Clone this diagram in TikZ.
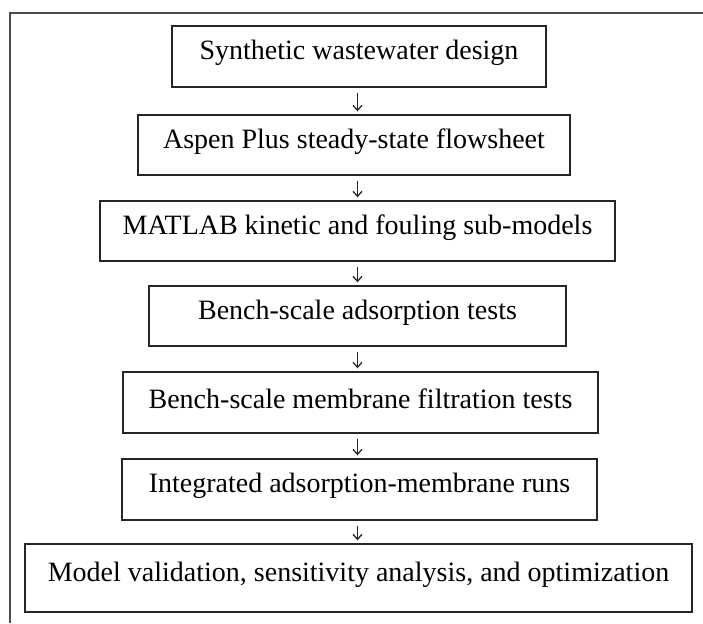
\documentclass[tikz,border=0pt]{standalone}
\usepackage{fontspec}
\setmainfont{Liberation Serif}
\usetikzlibrary{arrows.meta}
\newcommand{\uptext}[1]{\raisebox{3.5pt}[\height][\depth]{#1}}
\begin{document}
\begin{tikzpicture}[x=1pt,y=-1pt,
  stepbox/.style={draw=black!85, line width=1.4pt, inner sep=0pt, fill=white,
    font=\fontsize{28}{33}\selectfont},
  flow/.style={draw=black!85, line width=1.4pt, -{Straight Barb[length=5pt,width=9pt,line width=1.3pt]},
    shorten <=5pt, shorten >=3pt},
  frame/.style={draw=black!70, line width=1.2pt}]
\fill[white] (0,0) rectangle (703,623);
\useasboundingbox (0,0) rectangle (703,623);
\draw[frame] (10,623) -- (10,13) -- (703,13);
\node[stepbox, minimum width=374pt, minimum height=61pt] (b1) at (359,56.5) {\uptext{Synthetic wastewater design}};
\node[stepbox, minimum width=432pt, minimum height=60pt] (b2) at (354,145) {\uptext{Aspen Plus steady-state flowsheet}};
\node[stepbox, minimum width=515pt, minimum height=60pt] (b3) at (357.5,231) {\uptext{MATLAB kinetic and fouling sub-models}};
\node[stepbox, minimum width=417pt, minimum height=60pt] (b4) at (357.5,316) {\uptext{Bench-scale adsorption tests}};
\node[stepbox, minimum width=475pt, minimum height=61pt] (b5) at (360.5,402.5) {\uptext{Bench-scale membrane filtration tests}};
\node[stepbox, minimum width=475pt, minimum height=61pt] (b6) at (359.5,489.5) {\uptext{Integrated adsorption-membrane runs}};
\node[stepbox, minimum width=667pt, minimum height=68pt] (b7) at (358.5,578) {\uptext{Model validation, sensitivity analysis, and optimization}};
\coordinate (ax) at (357.5,0);
\foreach \a/\b in {b1/b2,b2/b3,b3/b4,b4/b5,b5/b6,b6/b7}
  \draw[flow] (\a.south -| ax) -- (\b.north -| ax);
\end{tikzpicture}
\end{document}
